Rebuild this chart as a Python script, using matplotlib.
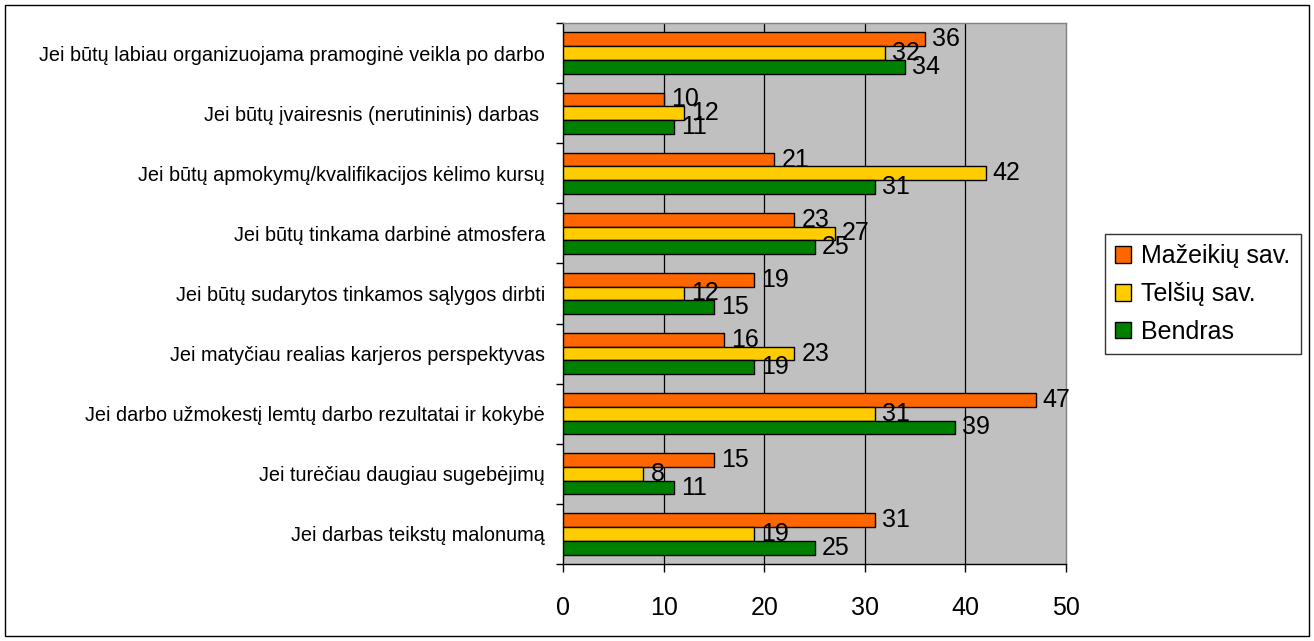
import matplotlib
matplotlib.use("Agg")
import matplotlib.pyplot as plt
from matplotlib.patches import Rectangle
import numpy as np

plt.rcParams['font.family'] = ['Liberation Sans', 'DejaVu Sans']

categories = [
    "Jei būtų labiau organizuojama pramoginė veikla po darbo",
    "Jei būtų įvairesnis (nerutininis) darbas ",
    "Jei būtų apmokymų/kvalifikacijos kėlimo kursų",
    "Jei būtų tinkama darbinė atmosfera",
    "Jei būtų sudarytos tinkamos sąlygos dirbti",
    "Jei matyčiau realias karjeros perspektyvas",
    "Jei darbo užmokestį lemtų darbo rezultatai ir kokybė",
    "Jei turėčiau daugiau sugebėjimų",
    "Jei darbas teikstų malonumą",
]
mazeikiai = [36, 10, 21, 23, 19, 16, 47, 15, 31]
telsiai = [32, 12, 42, 27, 12, 23, 31, 8, 19]
bendras = [34, 11, 31, 25, 15, 19, 39, 11, 25]
series_names = ["Mažeikių sav.", "Telšių sav.", "Bendras"]
series_colors = ["#FF6600", "#FFCC00", "#008000"]
xticks = [0, 10, 20, 30, 40, 50]

W, H = 1314, 641
fig = plt.figure(figsize=(W / 100, H / 100), dpi=100)
fig.patch.set_facecolor("white")
fig.patches.append(Rectangle((5 / W, 5 / H), (1309 - 5) / W, (636 - 5) / H,
                             transform=fig.transFigure, fill=False,
                             edgecolor="black", linewidth=1.0))

left, right, top, bottom = 563, 1066, 23, 564
ax = fig.add_axes([left / W, 1 - bottom / H, (right - left) / W, (bottom - top) / H])
ax.set_facecolor("#C0C0C0")

n = len(categories)
y = np.arange(n)
bh = 0.228
offsets = [-bh, 0, bh]
for vals, name, col, off in zip([mazeikiai, telsiai, bendras], series_names, series_colors, offsets):
    ax.barh(y + off, vals, height=bh, color=col, edgecolor="black",
            linewidth=1.0, label=name, zorder=3)
    for yy, v in zip(y + off, vals):
        ax.text(v + 0.7, yy, str(v), va="center", ha="left", fontsize=18,
                color="black", zorder=4)

ax.set_xlim(0, 50)
ax.set_ylim(n - 0.5, -0.5)
ax.set_xticks(xticks)
ax.set_xticklabels([str(t) for t in xticks], fontsize=18)
ax.tick_params(axis="x", direction="out", length=6, width=1, pad=17)
ax.set_yticks(y)
ax.set_yticklabels(categories, fontsize=14.3)
ax.tick_params(axis="y", which="major", length=0, pad=13)
ax.set_yticks(np.arange(n + 1) - 0.5, minor=True)
ax.tick_params(axis="y", which="minor", direction="out", length=5, width=1)

for t in xticks[1:-1]:
    ax.axvline(t, color="black", linewidth=0.9, zorder=1)

ax.spines["left"].set_color("black")
ax.spines["bottom"].set_color("black")
ax.spines["top"].set_color("#808080")
ax.spines["right"].set_color("#808080")
for s in ax.spines.values():
    s.set_linewidth(1.0)

leg = ax.legend(loc="center left", bbox_to_anchor=(1105 / W, 1 - 294 / H),
                bbox_transform=fig.transFigure, fontsize=18, frameon=True,
                fancybox=False, shadow=False, edgecolor="black",
                handlelength=0.65, handleheight=0.65, handletextpad=0.4,
                labelspacing=0.55, borderpad=0.4, borderaxespad=0)
leg.get_frame().set_linewidth(1.0)

fig.savefig("out.png", dpi=100, facecolor="white")
